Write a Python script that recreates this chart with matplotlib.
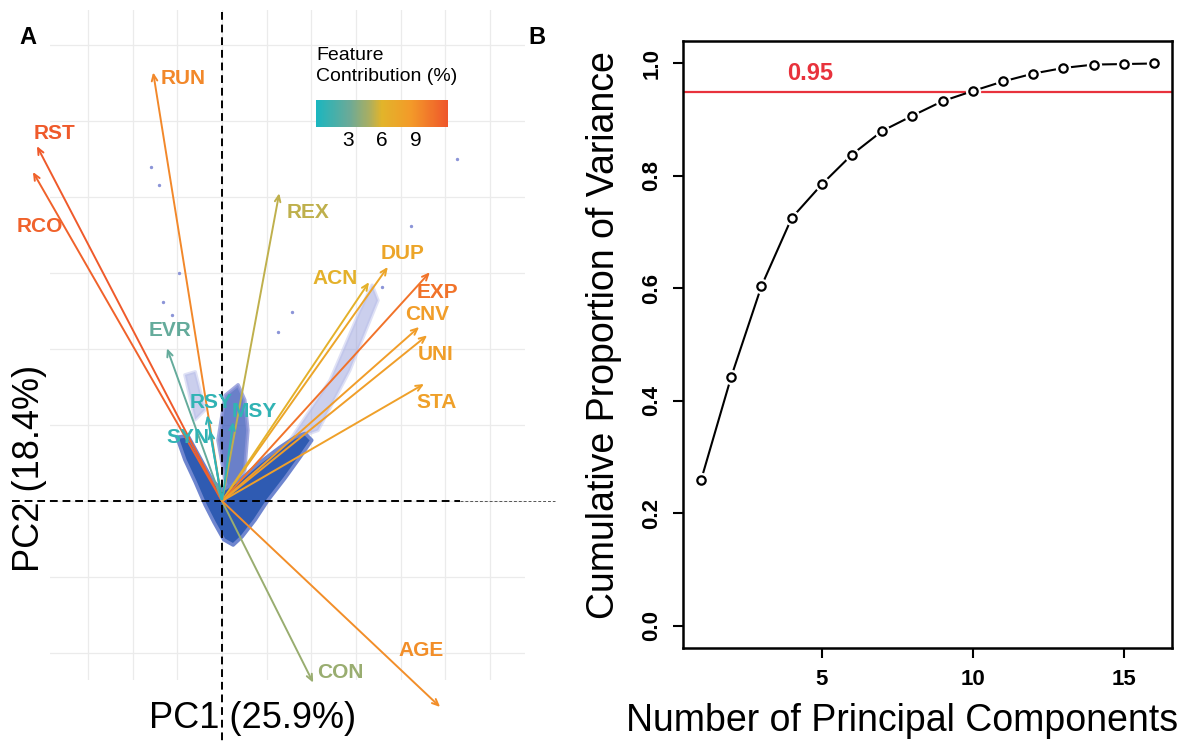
import numpy as np
import matplotlib
matplotlib.use("Agg")
import matplotlib.pyplot as plt
from matplotlib.colors import LinearSegmentedColormap, Normalize
from matplotlib.cm import ScalarMappable
from matplotlib.patches import Polygon

plt.rcParams['font.family'] = ['Liberation Sans', 'DejaVu Sans']

# ---- panel A : PCA biplot (loadings scaled to plot units) ----
features = ['RUN', 'RST', 'RCO', 'REX', 'DUP', 'ACN', 'EXP', 'CNV',
            'UNI', 'STA', 'EVR', 'RSY', 'MSY', 'SYN', 'CON', 'AGE']
pc1 = [-1.54, -4.14, -4.23, 1.28, 3.71, 3.29, 4.65, 4.41,
       4.59, 4.52, -1.23, -0.33, 0.25, -0.27, 2.04, 4.88]
pc2 = [5.64, 4.67, 4.33, 4.05, 3.08, 2.88, 3.01, 2.29,
       2.18, 1.54, 2.01, 1.13, 1.04, 0.93, -2.39, -2.71]
contrib = [9.4, 11.6, 11.2, 5.3, 7.4, 6.3, 10.4, 8.3,
           8.1, 7.9, 2.9, 1.0, 1.0, 1.0, 4.4, 9.1]

# where each label sits
label_pos = {'RUN': (-0.87, 5.56), 'RST': (-3.74, 4.84), 'RCO': (-4.07, 3.61),
             'REX': (1.92, 3.79), 'DUP': (4.03, 3.26), 'ACN': (2.53, 2.93),
             'EXP': (4.83, 2.74), 'CNV': (4.59, 2.45), 'UNI': (4.79, 1.93),
             'STA': (4.81, 1.30), 'EVR': (-1.16, 2.24), 'RSY': (-0.25, 1.30),
             'MSY': (0.72, 1.18), 'SYN': (-0.76, 0.83), 'CON': (2.64, -2.26),
             'AGE': (4.45, -1.97)}

# outline of the sample cloud (too dense to list every sample)
cloud_dense = [(-1.01, 0.84), (-0.76, 0.86), (-0.49, 0.57), (-0.22, 0.28), (0.0, 0.14),
               (0.40, 0.28), (0.85, 0.51), (1.30, 0.71), (1.63, 0.84), (1.86, 0.89),
               (2.01, 0.80), (1.74, 0.57), (1.41, 0.30), (1.03, 0.01), (0.74, -0.25),
               (0.45, -0.47), (0.25, -0.58), (0.04, -0.51), (-0.18, -0.28),
               (-0.38, -0.05), (-0.60, 0.25), (-0.83, 0.54)]
cloud_mid = [(-0.09, 0.80), (0.07, 1.39), (0.36, 1.53), (0.51, 1.33),
             (0.58, 0.93), (0.51, 0.41), (0.13, 0.08)]
cloud_tail = [(1.52, 0.80), (2.42, 1.59), (3.09, 2.51), (3.36, 2.84),
              (3.49, 2.64), (2.86, 1.72), (2.15, 0.93)]
cloud_left = [(-0.83, 1.66), (-0.60, 1.70), (-0.38, 1.20), (-0.60, 1.07)]
outlier_x = [-1.59, -1.41, -0.96, 5.26, 4.23, 3.58, -1.32, -1.12, 1.57, 1.25]
outlier_y = [4.39, 4.16, 3.00, 4.50, 3.62, 2.82, 2.62, 2.45, 2.49, 2.22]

# ---- panel B : cumulative variance ----
n_pc = np.arange(1, 17)
cum_var = [0.259, 0.443, 0.604, 0.725, 0.785, 0.838, 0.880, 0.907,
           0.933, 0.951, 0.968, 0.982, 0.992, 0.998, 0.999, 1.0]
threshold = 0.95

W, H = 1190, 742
fig = plt.figure(figsize=(W / 100, H / 100), dpi=100)

cmap = LinearSegmentedColormap.from_list(
    'contrib', [(0.0, '#1BB6BF'), (0.25, '#6AAA98'), (0.40, '#A9AE62'),
                (0.50, '#E2B42A'), (0.72, '#F39A29'), (1.0, '#EF562B')])
norm = Normalize(0.18, 11.8)

# ----------------- A -----------------
ax = fig.add_axes([50 / W, 1 - 680 / H, 475 / W, 670 / H])
ax.set_xlim(-3.848, 6.779)
ax.set_ylim(-2.355, 6.461)
ax.set_xticks(range(-3, 7))
ax.set_yticks(range(-2, 7))
ax.grid(color='#EBEBEB', lw=0.9)
ax.tick_params(length=0, labelbottom=False, labelleft=False)
for s in ax.spines.values():
    s.set_visible(False)
ax.set_axisbelow(True)

for poly, fc, ec, a in [(cloud_left, '#8C95D8', '#B9BEEA', 0.45),
                        (cloud_tail, '#8C95D8', '#B9BEEA', 0.45),
                        (cloud_mid, '#4560BC', '#8C95D8', 0.8),
                        (cloud_dense, '#2F5BB2', '#6F86CF', 1.0)]:
    ax.add_patch(Polygon(poly, closed=True, fc=fc, ec=ec, lw=2.5, alpha=a,
                         joinstyle='round', zorder=2))
ax.scatter(outlier_x, outlier_y, s=2, color='#8C95D8', zorder=2)

# reference lines through the origin
ax.plot([-4.70, 5.32], [0, 0], color='black', ls=(0, (4, 2.5)), lw=1.4,
        clip_on=False, zorder=3)
ax.plot([5.32, 7.45], [0, 0], color='#555555', ls=(0, (3, 2)), lw=0.7,
        clip_on=False, zorder=3)
ax.plot([0, 0], [6.43, -3.17], color='black', ls=(0, (4, 2.5)), lw=1.4,
        clip_on=False, zorder=3)

for name, x, y, c in zip(features, pc1, pc2, contrib):
    col = cmap(norm(c))
    ax.annotate('', xy=(x, y), xytext=(0, 0), annotation_clip=False,
                arrowprops=dict(arrowstyle='->,head_length=0.45,head_width=0.2',
                                color=col, lw=1.4, shrinkA=0, shrinkB=0), zorder=4)
    lx, ly = label_pos[name]
    ax.text(lx, ly, name, color=col, fontsize=15, fontweight='bold',
            ha='center', va='center', zorder=5, clip_on=False)

# colour bar legend
cax = fig.add_axes([316 / W, 1 - 127 / H, 132 / W, 27 / H])
sm = ScalarMappable(norm=norm, cmap=cmap)
cb = fig.colorbar(sm, cax=cax, orientation='horizontal', ticks=[3, 6, 9])
cb.outline.set_visible(False)
cax.tick_params(length=0, labelsize=15, pad=3)
fig.text(316 / W, 1 - 66 / H, 'Feature\nContribution (%)', fontsize=14,
         ha='left', va='center', linespacing=1.3)

fig.text(253 / W, 1 - 718 / H, 'PC1 (25.9%)', fontsize=26, ha='center', va='center')
fig.text(30 / W, 1 - 468 / H, 'PC2 (18.4%)', fontsize=26, ha='center', va='center',
         rotation=90)
fig.text(28 / W, 1 - 38 / H, 'A', fontsize=17, fontweight='bold', ha='center', va='center')
fig.text(537 / W, 1 - 38 / H, 'B', fontsize=17, fontweight='bold', ha='center', va='center')

# ----------------- B -----------------
bx = fig.add_axes([683 / W, 1 - 648 / H, 489 / W, 607 / H])
bx.plot(n_pc, cum_var, color='black', lw=1.5, zorder=2)
bx.plot(n_pc, cum_var, 'o', ms=10, color='white', zorder=3)
bx.plot(n_pc, cum_var, 'o', ms=6, mfc='white', mec='black', mew=1.6, zorder=4)
bx.axhline(threshold, color='#E8323C', lw=1.6, zorder=1)
bx.text(4.6, 0.982, '0.95', color='#E8323C', fontsize=17, fontweight='bold',
        ha='center', va='center')
bx.set_xlim(0.4, 16.6)
bx.set_ylim(-0.04, 1.04)
bx.set_xticks([5, 10, 15])
bx.set_yticks([0.0, 0.2, 0.4, 0.6, 0.8, 1.0])
bx.set_yticklabels(['0.0', '0.2', '0.4', '0.6', '0.8', '1.0'], rotation=90, va='center')
for lab in bx.get_xticklabels() + bx.get_yticklabels():
    lab.set_fontweight('bold')
bx.tick_params(length=7, width=1.5, labelsize=16, pad=8)
for s in bx.spines.values():
    s.set_linewidth(1.8)
bx.set_xlabel('Number of Principal Components', fontsize=27)
bx.xaxis.set_label_coords(0.448, -0.09)
bx.set_ylabel('Cumulative Proportion of Variance', fontsize=27)
bx.yaxis.set_label_coords(-0.125, 0.516)

fig.savefig('out.png', dpi=100)
